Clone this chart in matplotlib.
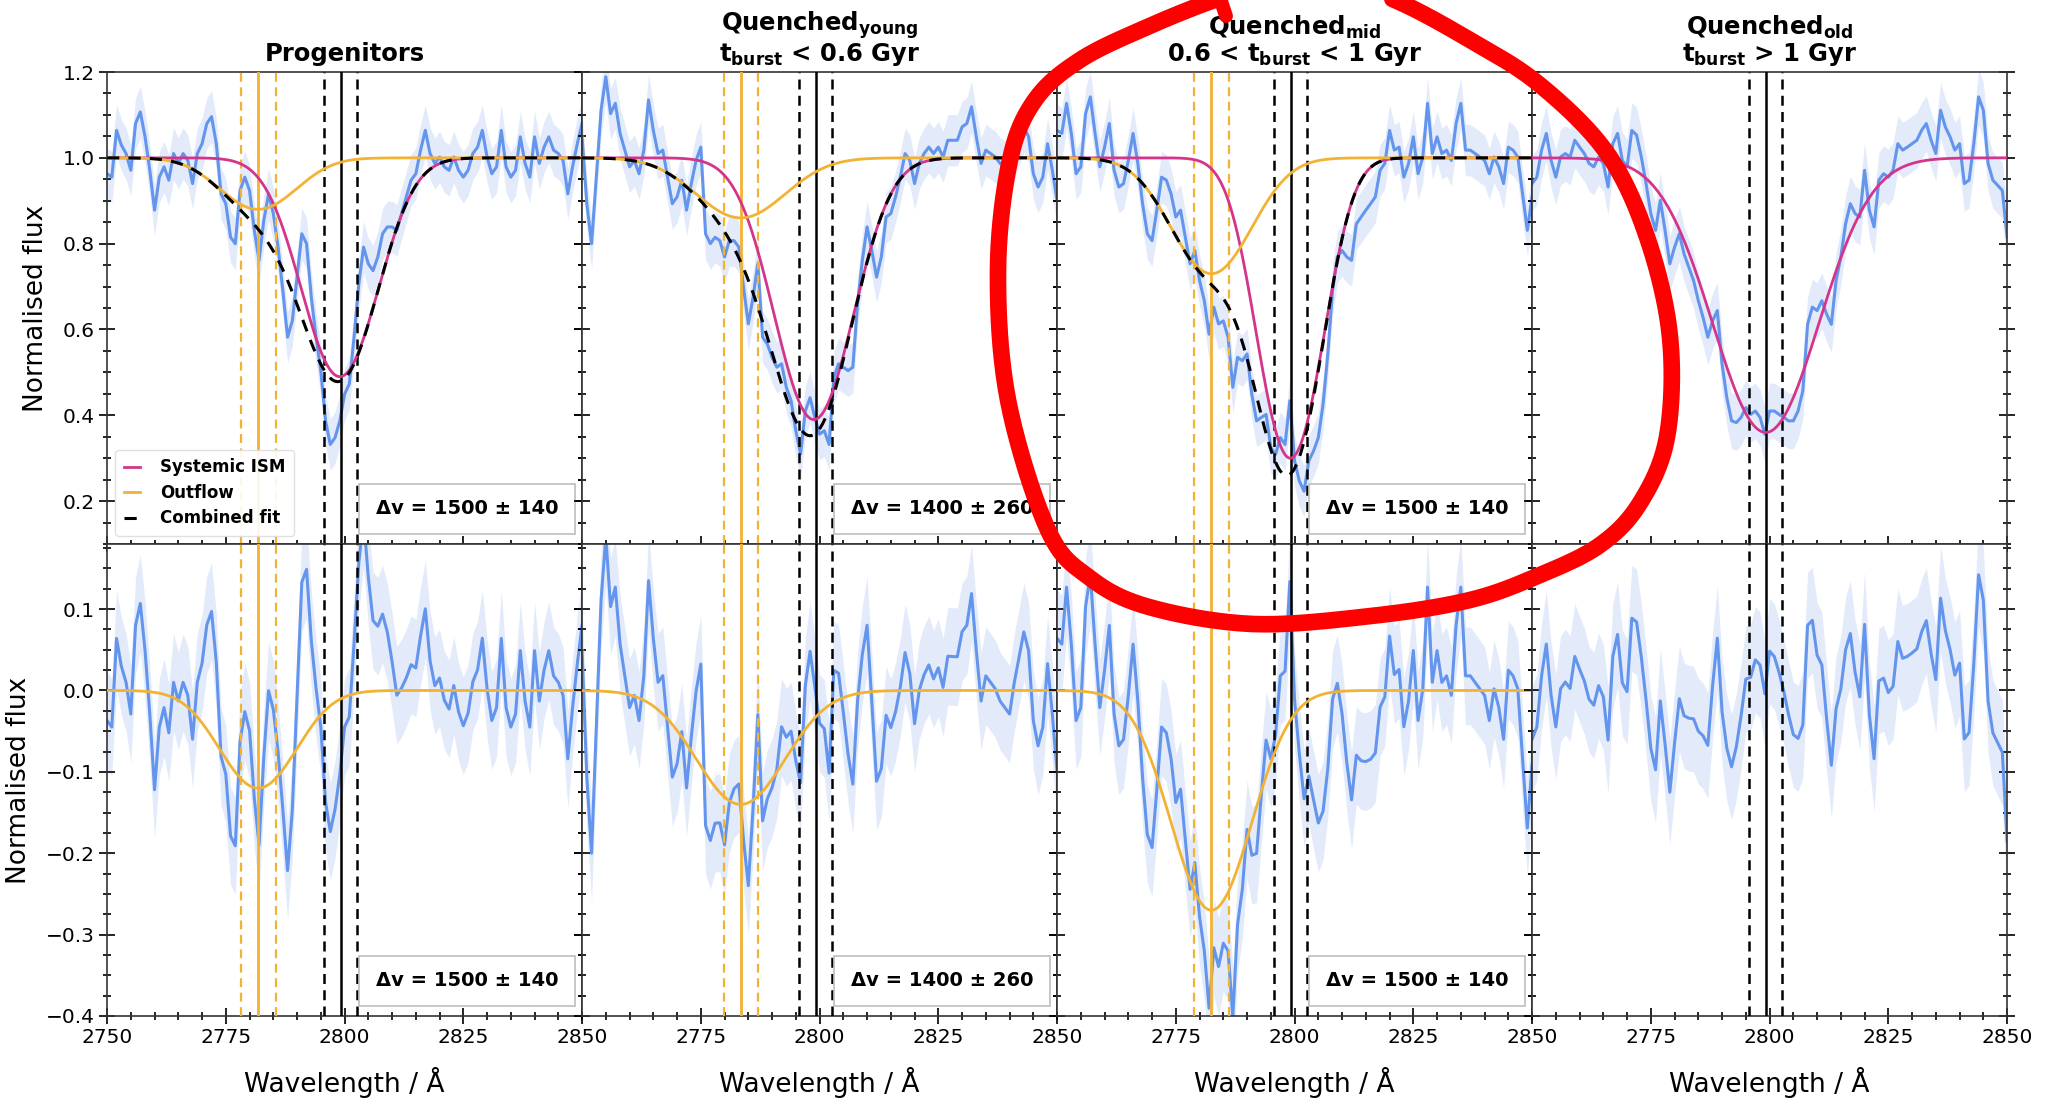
import numpy as np
import matplotlib
matplotlib.use("Agg")
import matplotlib.pyplot as plt
from matplotlib.ticker import MultipleLocator
from matplotlib.patches import Rectangle
from matplotlib.lines import Line2D

# ---------------- data ----------------
wavelength = np.arange(2750, 2851)  # 1 Angstrom sampling

flux_prog = [0.963, 0.955, 1.064, 1.03, 1.01, 0.971, 1.08, 1.107, 1.049, 0.971,
             0.878, 0.955, 0.979, 0.948, 1.01, 0.987, 1.01, 0.994, 0.94, 1.01,
             1.033, 1.08, 1.096, 1.033, 0.916, 0.893, 0.815, 0.80, 0.924, 0.955,
             0.924, 0.831, 0.761, 0.854, 0.916, 0.87, 0.792, 0.691, 0.582, 0.62,
             0.722, 0.823, 0.80, 0.675, 0.582, 0.504, 0.387, 0.332, 0.348, 0.387,
             0.449, 0.473, 0.582, 0.706, 0.792, 0.753, 0.737, 0.769, 0.823, 0.839,
             0.839, 0.831, 0.87, 0.909, 0.948, 0.963, 1.018, 1.064, 1.01, 0.987,
             1.002, 0.979, 0.971, 1.002, 0.971, 0.955, 0.971, 1.01, 1.025, 1.064,
             1.002, 0.963, 0.979, 1.064, 0.979, 0.955, 0.971, 1.049, 0.987, 0.955,
             1.049, 0.987, 1.025, 1.049, 1.018, 1.01, 0.994, 0.916, 0.979, 1.033, 1.08]

flux_young = [1.049, 0.893, 0.80, 0.955, 1.111, 1.189, 1.103, 1.127, 1.057, 1.018,
              0.979, 0.994, 0.963, 1.018, 1.135, 1.064, 1.01, 1.018, 0.955, 0.893,
              0.909, 0.948, 0.878, 0.94, 0.994, 1.025, 0.823, 0.80, 0.815, 0.807,
              0.769, 0.807, 0.807, 0.792, 0.698, 0.613, 0.675, 0.753, 0.582, 0.566,
              0.535, 0.512, 0.52, 0.465, 0.434, 0.364, 0.31, 0.41, 0.441, 0.395,
              0.356, 0.364, 0.332, 0.488, 0.52, 0.512, 0.504, 0.512, 0.66, 0.761,
              0.839, 0.784, 0.722, 0.769, 0.862, 0.87, 0.909, 0.955, 1.01, 0.994,
              0.94, 0.987, 1.01, 1.025, 1.01, 1.025, 1.002, 1.041, 1.041, 1.041,
              1.072, 1.08, 1.119, 1.049, 0.987, 1.018, 1.01, 1.002, 0.987, 0.979,
              0.971, 1.01, 1.041, 1.072, 1.049, 0.963, 0.932, 0.955, 1.033, 0.971, 0.90]

flux_mid = [1.064, 1.057, 1.127, 1.057, 0.963, 0.979, 1.103, 1.142, 1.057, 0.979,
            1.025, 1.08, 0.971, 0.932, 0.94, 0.994, 1.057, 0.987, 0.893, 0.823,
            0.807, 0.878, 0.955, 0.948, 0.916, 0.862, 0.878, 0.815, 0.753, 0.784,
            0.714, 0.667, 0.589, 0.652, 0.613, 0.62, 0.582, 0.465, 0.535, 0.527,
            0.543, 0.449, 0.387, 0.395, 0.402, 0.325, 0.309, 0.348, 0.332, 0.434,
            0.294, 0.247, 0.223, 0.294, 0.317, 0.348, 0.426, 0.543, 0.691, 0.769,
            0.784, 0.769, 0.761, 0.846, 0.862, 0.878, 0.893, 0.909, 0.971, 0.987,
            1.064, 1.018, 1.025, 0.955, 0.987, 1.049, 0.963, 1.002, 1.127, 1.01,
            1.049, 1.01, 1.018, 0.994, 1.08, 1.127, 1.018, 1.018, 1.01, 1.002,
            0.994, 0.963, 1.002, 0.979, 0.94, 1.025, 1.018, 1.002, 0.916, 0.831, 0.909]

flux_old = [0.94, 0.955, 1.018, 1.057, 0.994, 0.955, 1.002, 1.01, 1.002, 1.041,
            1.025, 1.01, 0.987, 0.979, 1.002, 0.987, 0.932, 1.033, 1.057, 0.994,
            0.979, 1.064, 1.053, 1.002, 0.94, 0.87, 0.831, 0.901, 0.831, 0.753,
            0.792, 0.823, 0.776, 0.745, 0.714, 0.667, 0.628, 0.582, 0.62, 0.644,
            0.519, 0.441, 0.387, 0.383, 0.395, 0.418, 0.402, 0.41, 0.395, 0.356,
            0.41, 0.41, 0.402, 0.395, 0.387, 0.387, 0.41, 0.457, 0.612, 0.652,
            0.644, 0.667, 0.636, 0.612, 0.714, 0.769, 0.846, 0.893, 0.87, 0.862,
            0.971, 0.878, 0.839, 0.948, 0.963, 0.955, 0.971, 1.033, 1.018, 1.025,
            1.033, 1.041, 1.064, 1.08, 1.041, 1.01, 1.111, 1.072, 1.049, 1.018,
            1.033, 0.94, 0.948, 1.033, 1.142, 1.111, 0.987, 0.948, 0.936, 0.924, 0.815]

fluxes = [flux_prog, flux_young, flux_mid, flux_old]
flux_err = [0.06, 0.06, 0.06, 0.065]

titles = [r"Progenitors",
          r"$\mathbf{Quenched_{young}}$" + "\n" + r"$\mathbf{t_{burst}}$ < 0.6 Gyr",
          r"$\mathbf{Quenched_{mid}}$" + "\n" + r"0.6 < $\mathbf{t_{burst}}$ < 1 Gyr",
          r"$\mathbf{Quenched_{old}}$" + "\n" + r"$\mathbf{t_{burst}}$ > 1 Gyr"]

# Gaussian doublet fit parameters (centre, depth at centre, sigma)
sys_centre = [2799.0, 2798.8, 2799.1, 2799.2]
sys_depth = [0.51, 0.61, 0.70, 0.64]
sys_sigma = [7.0, 7.3, 5.5, 10.5]
out_centre = [2781.8, 2783.4, 2782.5]
out_depth = [0.12, 0.14, 0.27]
out_sigma = [7.0, 8.5, 7.5]
doublet_half_sep = 3.5

mgii_lines = [2795.7, 2802.7]
mgii_centre = 2799.2
out_lines = [(2778.2, 2781.8, 2785.5), (2779.9, 2783.4, 2787.0), (2778.9, 2782.5, 2786.1)]
dv_labels = ["Δv = 1500 ± 140", "Δv = 1400 ± 260", "Δv = 1500 ± 140"]

# ---------------- style ----------------
C_BLUE = "#6495ED"
C_MAG = "#d4358a"
C_ORA = "#f2b233"

plt.rcParams["font.family"] = ["DejaVu Sans"]
plt.rcParams["mathtext.fontset"] = "dejavusans"


def doublet(wl, c, depth, s, hs=doublet_half_sep):
    g = np.exp(-0.5 * ((wl - c + hs) / s) ** 2) + np.exp(-0.5 * ((wl - c - hs) / s) ** 2)
    g0 = 2 * np.exp(-0.5 * (hs / s) ** 2)
    return depth * g / g0


fig = plt.figure(figsize=(20.47, 10.98), dpi=100)
gs = fig.add_gridspec(2, 4, left=0.0523, right=0.9805, top=0.9344, bottom=0.0747,
                      hspace=0, wspace=0)

fine = np.linspace(2750, 2850, 1001)
wl = wavelength

for col in range(4):
    axt = fig.add_subplot(gs[0, col])
    axb = fig.add_subplot(gs[1, col])
    f = np.array(fluxes[col])
    e = flux_err[col]
    sys_fine = doublet(fine, sys_centre[col], sys_depth[col], sys_sigma[col])
    sys_data = doublet(wl, sys_centre[col], sys_depth[col], sys_sigma[col])
    resid = f - (1 - sys_data)

    # top panel
    axt.fill_between(wl, f - e, f + e, color=C_BLUE, alpha=0.18, lw=0, zorder=1)
    axt.plot(wl, f, color=C_BLUE, lw=2.2, zorder=2, solid_joinstyle="round")
    # bottom panel
    axb.fill_between(wl, resid - e, resid + e, color=C_BLUE, alpha=0.18, lw=0, zorder=1)
    axb.plot(wl, resid, color=C_BLUE, lw=2.2, zorder=2, solid_joinstyle="round")

    for ax in (axt, axb):
        for x in mgii_lines:
            ax.axvline(x, color="black", ls=(0, (4, 2.5)), lw=1.8, zorder=3)
        ax.axvline(mgii_centre, color="black", lw=1.8, zorder=3)
        if col < 3:
            lo, mid, hi = out_lines[col]
            ax.axvline(lo, color=C_ORA, ls=(0, (4, 2.5)), lw=1.6, zorder=3)
            ax.axvline(hi, color=C_ORA, ls=(0, (4, 2.5)), lw=1.6, zorder=3)
            ax.axvline(mid, color=C_ORA, lw=2.0, zorder=3)

    axt.plot(fine, 1 - sys_fine, color=C_MAG, lw=2.0, zorder=4, label="Systemic ISM")
    if col < 3:
        out_fine = doublet(fine, out_centre[col], out_depth[col], out_sigma[col])
        axt.plot(fine, 1 - out_fine, color=C_ORA, lw=2.0, zorder=5, label="Outflow")
        axt.plot(fine, 1 - sys_fine - out_fine, color="black", lw=2.2,
                 ls=(0, (4, 3)), zorder=6, label="Combined fit")
        axb.plot(fine, -out_fine, color=C_ORA, lw=2.0, zorder=5)
        for ax in (axt, axb):
            ax.add_patch(Rectangle((0.53, 0.022), 0.455, 0.105, transform=ax.transAxes,
                                   facecolor="white", edgecolor="#bdbdbd", lw=1.2, zorder=8))
            ax.text(0.7575, 0.0745, dv_labels[col], transform=ax.transAxes, ha="center",
                    va="center", fontsize=14, fontweight="bold", zorder=9)

    if col == 0:
        leg = axt.legend(loc="lower left", bbox_to_anchor=(0.0, 0.0),
                         prop={"weight": "bold", "size": 12}, handlelength=1.0,
                         handletextpad=1.2, labelspacing=0.45, borderpad=0.5,
                         frameon=True, fancybox=True, framealpha=0.9)
        leg.get_frame().set_edgecolor("#dddddd")
        leg.set_zorder(10)

    axt.set_ylim(0.1, 1.2)
    axb.set_ylim(-0.4, 0.18)
    axt.yaxis.set_major_locator(MultipleLocator(0.2))
    axt.yaxis.set_minor_locator(MultipleLocator(0.05))
    axb.yaxis.set_major_locator(MultipleLocator(0.1))
    axb.yaxis.set_minor_locator(MultipleLocator(0.025))
    for ax in (axt, axb):
        ax.set_xlim(2750, 2850)
        if col == 0:
            ax.set_xticks([2750, 2775, 2800, 2825, 2850])
        else:
            ax.set_xticks([2775, 2800, 2825, 2850])
        ax.xaxis.set_minor_locator(MultipleLocator(5))
        ax.tick_params(which="both", direction="inout", left=True, right=True,
                       bottom=True, top=False, labelsize=14.5, width=1.2)
        ax.tick_params(which="major", length=11)
        ax.tick_params(which="minor", length=6)
        for sp in ax.spines.values():
            sp.set_linewidth(1.2)
            sp.set_color("#333333")
        if col > 0:
            ax.tick_params(labelleft=False)
    axt.tick_params(labelbottom=False)

    axt.set_title(titles[col], fontsize=17.5, fontweight="bold", pad=8, linespacing=1.0)
    axb.set_xlabel("Wavelength / Å", fontsize=19, labelpad=14)
    if col == 0:
        axt.set_ylabel("Normalised flux", fontsize=19, labelpad=10)
        axb.set_ylabel("Normalised flux", fontsize=19, labelpad=10)

# ---------------- red hand-drawn loop (annotation on the picture) ----------------
loop_px = [(1220, -2), (1305, -28), (1390, -2), (1470, 40), (1540, 85), (1607, 153),
           (1647, 237), (1670, 337), (1667, 437), (1640, 503), (1600, 545),
           (1540, 575), (1470, 600), (1371, 616), (1253, 624), (1149, 607),
           (1090, 578), (1048, 530), (1008, 400), (998, 270), (1010, 160),
           (1035, 100), (1080, 60), (1145, 28)]
P = np.array(loop_px, dtype=float)
N = len(P)
segs = []
for i in range(N):
    p0, p1, p2, p3 = P[i - 1], P[i], P[(i + 1) % N], P[(i + 2) % N]
    t = np.linspace(0, 1, 20, endpoint=False)[:, None]
    segs.append(0.5 * ((2 * p1) + (-p0 + p2) * t + (2 * p0 - 5 * p1 + 4 * p2 - p3) * t ** 2
                       + (-p0 + 3 * p1 - 3 * p2 + p3) * t ** 3))
curve = np.vstack(segs + [P[:1]])
W, H = 2047.0, 1098.0
fig.add_artist(Line2D(curve[:, 0] / W, 1 - curve[:, 1] / H, transform=fig.transFigure,
                      color="#ff0000", lw=12, solid_capstyle="round",
                      solid_joinstyle="round", zorder=50, clip_on=False))
fig.add_artist(Line2D(np.array([1219, 1226]) / W, 1 - np.array([-5, 16]) / H,
                      transform=fig.transFigure, color="#ff0000", lw=10,
                      solid_capstyle="round", zorder=50, clip_on=False))

fig.savefig("out.png", dpi=100)
